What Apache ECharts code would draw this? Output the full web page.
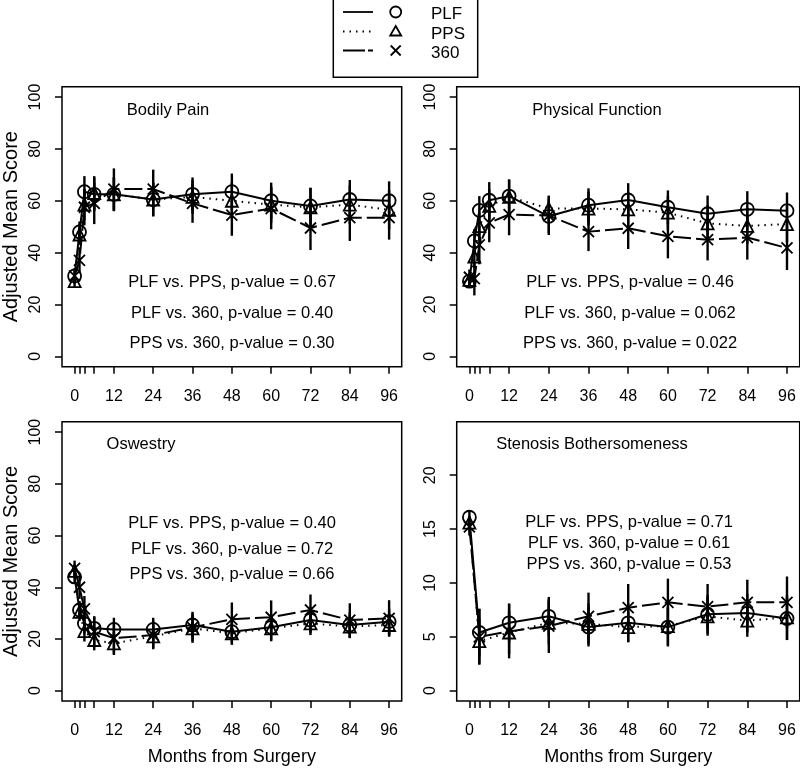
<!DOCTYPE html>
<html><head><meta charset="utf-8">
<script src="https://cdn.jsdelivr.net/npm/echarts@6/dist/echarts.min.js"></script>
<style>html,body{margin:0;padding:0;background:#fff}#c{width:800px;height:770px}</style>
</head><body><div id="c"></div>
<script>
// ---- data ----
const months   = [0, 1.5, 3, 6, 12, 24, 36, 48, 60, 72, 84, 96];
const monthsSB = [0, 3, 12, 24, 36, 48, 60, 72, 84, 96];
const xTicks   = [0, 1.5, 3, 6, 12, 24, 36, 48, 60, 72, 84, 96];
const xLabels  = [0, 12, 24, 36, 48, 60, 72, 84, 96];
const yTicks100 = [0, 20, 40, 60, 80, 100];
const yTicksSB  = [0, 5, 10, 15, 20];
const groups = ['PLF', 'PPS', '360'];

// Bodily Pain
const bpPLF   = [31, 48, 63.5, 62.5, 62.5, 60.5, 62.5, 63.5, 60, 58, 60.5, 60];
const bpPPS   = [29, 47, 58.5, 63, 62.5, 60.5, 61.5, 60, 58.5, 57.5, 58.5, 56.5];
const bp360   = [31, 37, 57.5, 59, 64.5, 64.5, 59, 54.5, 57, 49.5, 53.5, 53.5];
const bpPLFci = [2.5, 4, 6, 6.5, 6.5, 6.5, 6.5, 7, 7, 7, 7.5, 7.5];
const bpPPSci = [2.5, 4, 6, 6.5, 6.5, 6.5, 6.5, 7, 7, 7.5, 7.5, 7.5];
const bp360ci = [3, 5, 7, 8, 8, 7.5, 7.5, 8, 8, 8.5, 9, 8.5];
const bpP = ['PLF vs. PPS, p-value = 0.67', 'PLF vs. 360, p-value = 0.40', 'PPS vs. 360, p-value = 0.30'];

// Physical Function
const pfPLF   = [29, 44.5, 56.3, 60.2, 61.8, 54, 58.3, 60.3, 57.5, 55, 56.7, 56.2];
const pfPPS   = [29.5, 38.5, 50.2, 58, 61.5, 57, 57, 56.7, 55.4, 51.3, 50.3, 51];
const pf360   = [30.5, 30, 43, 51.5, 54.7, 54.3, 48.1, 49.4, 46.3, 45, 45.8, 41.8];
const pfPLFci = [2.5, 4.5, 5.5, 7, 6.5, 6.5, 6.5, 6.5, 6.5, 7, 7, 7];
const pfPPSci = [2.5, 4.5, 5.5, 6.5, 6.5, 5, 6.5, 6.5, 6.5, 7, 7, 7];
const pf360ci = [3, 6.5, 7.5, 7.5, 8, 7.5, 7.5, 8, 8.5, 8, 8.5, 8.5];
const pfP = ['PLF vs. PPS, p-value = 0.46', 'PLF vs. 360, p-value = 0.062', 'PPS vs. 360, p-value = 0.022'];

// Oswestry
const odPLF   = [44, 31.2, 26, 24.1, 23.7, 23.7, 25.4, 22.8, 24.5, 27.3, 25.4, 26.7];
const odPPS   = [46.3, 30.5, 23, 19.6, 18.3, 21, 24.1, 22.2, 24.1, 26, 24.8, 25.4];
const od360   = [47.3, 40, 31.6, 22.8, 20.3, 21.5, 24.5, 27.6, 28.4, 31.2, 27.3, 28];
const odPLFci = [2.5, 3.5, 4, 4.5, 4.5, 4.5, 4.5, 4.5, 5, 5, 5, 5];
const odPPSci = [2.5, 3.5, 4, 4, 4.5, 4.5, 5, 4.5, 5, 4.5, 4.5, 4.5];
const od360ci = [3, 4.5, 5, 6, 6, 5.5, 6, 6.5, 6.5, 6, 6.5, 7];
const odP = ['PLF vs. PPS, p-value = 0.40', 'PLF vs. 360, p-value = 0.72', 'PPS vs. 360, p-value = 0.66'];

// Stenosis Bothersomeness
const sbPLF   = [16.1, 5.4, 6.3, 6.9, 5.9, 6.3, 5.9, 7.1, 7.2, 6.7];
const sbPPS   = [15.6, 4.6, 5.4, 6.3, 6.2, 5.9, 6.0, 6.9, 6.5, 6.8];
const sb360   = [15.2, 5.0, 5.5, 6.0, 6.9, 7.7, 8.2, 7.8, 8.2, 8.2];
const sbPLFci = [0.6, 2.2, 1.8, 1.8, 1.8, 1.8, 1.8, 1.8, 1.8, 2.0];
const sbPPSci = [0.6, 2.1, 2.0, 2.0, 1.9, 1.4, 1.8, 1.8, 1.5, 2.1];
const sb360ci = [0.8, 2.6, 2.5, 2.5, 2.2, 2.2, 2.2, 2.1, 2.1, 2.4];
const sbP = ['PLF vs. PPS, p-value = 0.71', 'PLF vs. 360, p-value = 0.61', 'PPS vs. 360, p-value = 0.53'];

const titles = ['Bodily Pain', 'Physical Function', 'Oswestry', 'Stenosis Bothersomeness'];

// ---- layout / style ----
const FONT = 'Liberation Sans, Arial, Helvetica, sans-serif';
const grids = [
  {left: 58.3, top: 86.7, width: 343.4, height: 280},
  {left: 456.7, top: 86.7, width: 343, height: 280},
  {left: 58.3, top: 421.8, width: 343.4, height: 279.2},
  {left: 456.7, top: 421.8, width: 343, height: 279.2}
];
const styles = {
  PLF: {symbol: 'circle', size: 13, dash: 'solid'},
  PPS: {symbol: 'triangle', size: 12, dash: [1.5, 5]},
  '360': {symbol: 'path://M0,0L10,10M10,0L0,10', size: 11, dash: [18, 5]}
};

const panels = [
  {xs: months, series: [bpPLF, bpPPS, bp360], ci: [bpPLFci, bpPPSci, bp360ci], yr: [-4, 104], yt: yTicks100, pv: bpP},
  {xs: months, series: [pfPLF, pfPPS, pf360], ci: [pfPLFci, pfPPSci, pf360ci], yr: [-4, 104], yt: yTicks100, pv: pfP},
  {xs: months, series: [odPLF, odPPS, od360], ci: [odPLFci, odPPSci, od360ci], yr: [-4, 104], yt: yTicks100, pv: odP},
  {xs: monthsSB, series: [sbPLF, sbPPS, sb360], ci: [sbPLFci, sbPPSci, sb360ci], yr: [-0.96, 24.96], yt: yTicksSB, pv: sbP}
];

const titlePos = [[168, 110], [597, 110], [141, 444], [592, 444]];
const pvPos = [
  {x: 232, ys: [282, 313, 343]},
  {x: 630, ys: [282, 313, 343]},
  {x: 232, ys: [523, 549, 574]},
  {x: 629, ys: [522, 543, 564]}
];

const xAxes = [], yAxes = [], series = [], graphics = [];
panels.forEach((p, gi) => {
  xAxes.push({
    type: 'value', gridIndex: gi, min: -3.84, max: 99.84,
    axisLine: {show: false, onZero: false}, splitLine: {show: false},
    axisTick: {show: true, customValues: xTicks, length: 7, lineStyle: {color: '#000', width: 1.5}},
    axisLabel: {customValues: xLabels, margin: 22, color: '#000', fontSize: 16, fontFamily: FONT},
    name: gi >= 2 ? 'Months from Surgery' : '', nameLocation: 'middle', nameGap: 47,
    nameTextStyle: {color: '#000', fontSize: 18, fontFamily: FONT}
  });
  yAxes.push({
    type: 'value', gridIndex: gi, min: p.yr[0], max: p.yr[1],
    axisLine: {show: false, onZero: false}, splitLine: {show: false},
    axisTick: {show: true, customValues: p.yt, length: 7, lineStyle: {color: '#000', width: 1.5}},
    axisLabel: {customValues: p.yt, margin: 18, rotate: 90, color: '#000', fontSize: 16, fontFamily: FONT},
    name: gi % 2 === 0 ? 'Adjusted Mean Score' : '', nameLocation: 'middle', nameGap: 41, nameRotate: 90,
    nameTextStyle: {color: '#000', fontSize: 20, fontFamily: FONT}
  });
  p.series.forEach((vals, si) => {
    const st = styles[groups[si]];
    const hw = p.ci[si];
    series.push({
      type: 'custom', name: groups[si] + ' CI', xAxisIndex: gi, yAxisIndex: gi, silent: true, z: 1,
      data: p.xs.map((x, i) => [x, vals[i] - hw[i], vals[i] + hw[i]]),
      encode: {x: 0, y: [1, 2]},
      renderItem: (params, api) => {
        const lo = api.coord([api.value(0), api.value(1)]);
        const hi = api.coord([api.value(0), api.value(2)]);
        return {type: 'line', shape: {x1: lo[0], y1: lo[1], x2: hi[0], y2: hi[1]},
                style: {stroke: '#000', lineWidth: 2.4}};
      }
    });
    series.push({
      type: 'line', name: groups[si], xAxisIndex: gi, yAxisIndex: gi, z: 2,
      data: p.xs.map((x, i) => [x, vals[i]]),
      symbol: st.symbol, symbolSize: st.size, showSymbol: true, silent: true,
      lineStyle: {color: '#000', width: 2, type: st.dash},
      itemStyle: {color: 'transparent', borderColor: '#000', borderWidth: 1.8}
    });
  });
  graphics.push({type: 'text', x: titlePos[gi][0], y: titlePos[gi][1],
    style: {text: titles[gi], fill: '#000', font: '16.5px ' + FONT, textAlign: 'center', textVerticalAlign: 'middle'}});
  p.pv.forEach((t, k) => {
    graphics.push({type: 'text', x: pvPos[gi].x, y: pvPos[gi].ys[k],
      style: {text: t, fill: '#000', font: '16.5px ' + FONT, textAlign: 'center', textVerticalAlign: 'middle'}});
  });
});

// legend (drawn as graphics)
const legRows = [12, 31.5, 50.5];
graphics.push({type: 'rect', shape: {x: 333.3, y: -2, width: 144.4, height: 79.3},
  style: {fill: 'none', stroke: '#000', lineWidth: 1.5}});
groups.forEach((g, k) => {
  const st = styles[g];
  graphics.push({type: 'line', shape: {x1: 343, y1: legRows[k], x2: 373, y2: legRows[k]},
    style: {stroke: '#000', lineWidth: 1.8, lineDash: st.dash === 'solid' ? null : (g === '360' ? [22, 3] : [1.5, 5])}});
  graphics.push({type: 'text', x: 431, y: legRows[k] + 2.5,
    style: {text: g, fill: '#000', font: '17px ' + FONT, textAlign: 'left', textVerticalAlign: 'middle'}});
});
graphics.push({type: 'circle', shape: {cx: 395.7, cy: legRows[0], r: 5.5}, style: {fill: 'none', stroke: '#000', lineWidth: 1.8}});
graphics.push({type: 'polygon', shape: {points: [[395.7, legRows[1] - 5.5], [401.2, legRows[1] + 4], [390.2, legRows[1] + 4]]},
  style: {fill: 'none', stroke: '#000', lineWidth: 1.8}});
graphics.push({type: 'polyline', shape: {points: [[390.7, legRows[2] - 5], [400.7, legRows[2] + 5]]}, style: {stroke: '#000', lineWidth: 1.8}});
graphics.push({type: 'polyline', shape: {points: [[400.7, legRows[2] - 5], [390.7, legRows[2] + 5]]}, style: {stroke: '#000', lineWidth: 1.8}});

const chart = echarts.init(document.getElementById('c'), null, {renderer: 'canvas'});
chart.setOption({
  animation: false,
  backgroundColor: '#fff',
  grid: grids.map(g => Object.assign({show: true, borderColor: '#000', borderWidth: 1.5, backgroundColor: 'transparent', containLabel: false}, g)),
  xAxis: xAxes,
  yAxis: yAxes,
  series: series,
  graphic: graphics
});
</script></body></html>
